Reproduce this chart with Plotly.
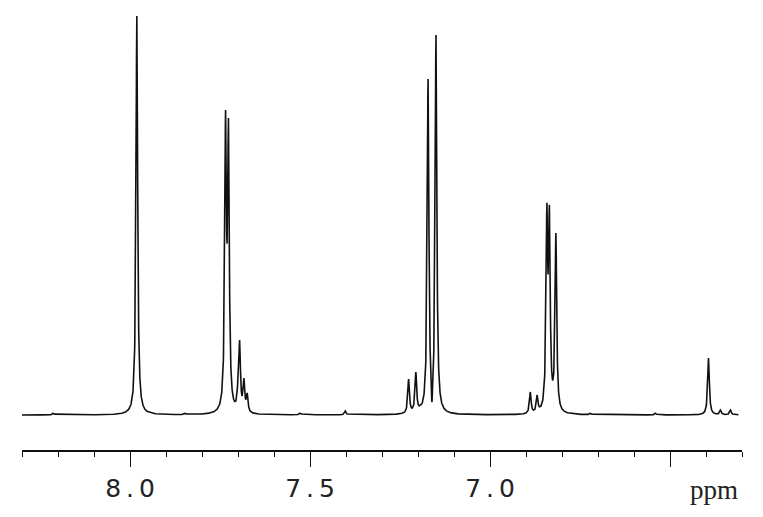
import numpy as np
import plotly.graph_objects as go

# Peak list: chemical shift (ppm) and height above baseline
peak_ppm = [8.213, 7.981, 7.936, 7.847,
            7.7345, 7.7265, 7.700, 7.6955, 7.6835, 7.6745,
            7.527, 7.402,
            7.226, 7.206, 7.194, 7.172, 7.161, 7.150,
            6.888, 6.869, 6.855, 6.842, 6.835, 6.817,
            6.721, 6.540, 6.393, 6.360, 6.332]
peak_height = [2, 399, 2, 2,
               305, 297, 37, 75, 37, 22,
               2, 4,
               36, 43, 10, 336, 13, 380,
               23, 20, 12, 212, 210, 182,
               2, 2, 57, 5, 5]
line_width_ppm = 0.0027  # half width at half height

tick_vals = [8.0, 7.5, 7.0, 6.5]
tick_text = ["8\u2009.\u20090", "7\u2009.\u20095", "7\u2009.\u20090", ""]
ppm_start, ppm_end = 8.3, 6.3

# Lorentzian line shapes; amplitudes solved so each peak reaches its read height
centers = np.array(peak_ppm)
heights = np.array(peak_height, dtype=float)

def lorentz(d):
    return line_width_ppm**2 / (line_width_ppm**2 + d**2)

amps = np.linalg.solve(lorentz(centers[:, None] - centers[None, :]), heights)
x = np.union1d(np.linspace(ppm_end + 0.01, ppm_start, 5000), centers)
y = (amps[None, :] * lorentz(x[:, None] - centers[None, :])).sum(axis=1)

fig = go.Figure(go.Scatter(x=x, y=y, mode="lines",
                           line=dict(color="#111111", width=1.6),
                           hoverinfo="skip"))

fig.update_xaxes(range=[ppm_start, ppm_end], showgrid=False, zeroline=False,
                 showline=True, linecolor="#111111", linewidth=1.6,
                 ticks="outside", ticklen=15, tickwidth=1.4, tickcolor="#111111",
                 tickmode="array", tickvals=tick_vals, ticktext=tick_text,
                 tickfont=dict(family="DejaVu Sans", size=25, color="#222222"),
                 minor=dict(tickmode="linear", tick0=6.0, dtick=0.1, ticklen=5,
                            tickwidth=1.4, tickcolor="#111111", showgrid=False))
fig.update_yaxes(range=[-35, 415], visible=False)

fig.add_annotation(x=6.379, xref="x", y=-0.05, yref="paper", yanchor="top",
                   text="ppm", showarrow=False,
                   font=dict(family="Liberation Serif", size=27, color="#222222"))

fig.update_layout(width=763, height=517, plot_bgcolor="white", paper_bgcolor="white",
                  margin=dict(l=22, r=21, t=0, b=67), showlegend=False)

fig.write_html("out.html", config={"displayModeBar": False},
               post_script="document.body.style.margin='0px';")
